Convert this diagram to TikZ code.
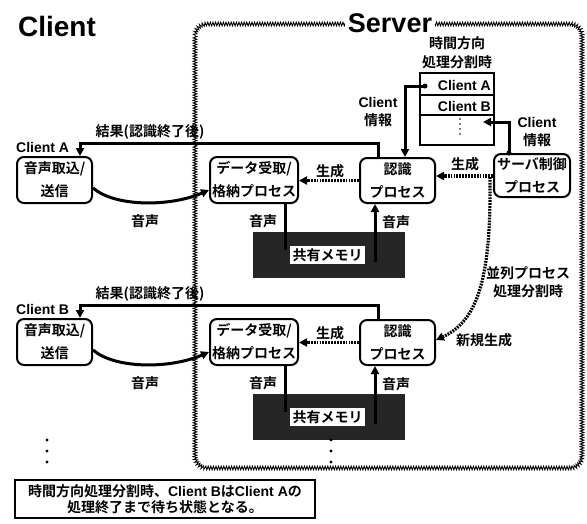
\documentclass[tikz,border=0pt]{standalone}
\usepackage{fontspec}
\setmainfont{Liberation Sans}
\newfontfamily\jp{Noto Sans CJK JP}[BoldFont={Noto Sans CJK JP Bold}]
\usetikzlibrary{arrows.meta,decorations.pathmorphing}
\newcommand\J[1]{{\jp #1}}
\begin{document}
\begin{tikzpicture}[x=1pt,y=-1pt,
  every node/.style={font=\fontsize{14}{18}\selectfont\bfseries, inner sep=0pt},
  pbox/.style={draw, line width=2pt, rounded corners=7pt, align=center, font=\fontsize{14}{23}\selectfont\bfseries},
  tcell/.style={draw, line width=1.5pt, minimum width=74},
  conn/.style={line width=3pt},
  tip/.style={-{Triangle[length=8pt,width=8pt]}},
  dots/.style={line width=3.2pt, dash pattern=on 1.8pt off 1.1pt},
  lbl/.style={align=center},
]
\useasboundingbox (0,0) rectangle (587,523);

% server border
\path[rounded corners=12pt, postaction={sharp corners, draw, line width=0.85pt, decorate, decoration={zigzag, segment length=2.6pt, amplitude=1.9pt}}] (195,24) rectangle (582,468);

% titles
\node (tclient) at (57,26) {\fontsize{28}{30}\selectfont Client};
\node[fill=white, inner xsep=3pt, inner ysep=2pt] (tserver) at (390,23) {\fontsize{27}{30}\selectfont Server};

% table
\node[lbl, font=\fontsize{14}{19}\selectfont\bfseries] (tlabel) at (457,53) {\J{時間方向}\\\J{処理分割時}};
\node[tcell, minimum height=22] (rowA) at (457,84) {};
\node[tcell, minimum height=20] (rowB) at (457,105) {};
\node[tcell, minimum height=30] (rowC) at (457,130) {};
\node[anchor=east] (cta) at (491,85) {Client A};
\node[anchor=east] (ctb) at (491,106) {Client B};
\foreach \yy in {119,124,129,134} \fill (460,\yy) circle (0.9);

% server control
\node[pbox, minimum width=76, minimum height=43] (srv) at (532,175.5) {\J{サーバ制御}\\\J{プロセス}};

\foreach \r/\d in {A/0,B/162}{
  \node[anchor=west] (cl\r) at (16,{147+\d}) {Client \r};
  \node[pbox, minimum width=75, minimum height=46] (c\r) at (54.5,{180+\d}) {\J{音声取込/}\\\J{送信}};
  \node[pbox, minimum width=88, minimum height=46] (d\r) at (254,{180+\d}) {\J{データ受取/}\\\J{格納プロセス}};
  \node[pbox, minimum width=75, minimum height=45] (r\r) at (397.5,{180.5+\d}) {\J{認識}\\\J{プロセス}};
  \node[fill=black!85, minimum width=152, minimum height=46] (m\r) at (329,{255+\d}) {};
  \node[fill=white, minimum width=75, minimum height=18] (ml\r) at (327.5,{255+\d}) {\J{共有メモリ}};
  % result
  \coordinate (k\r) at (80,{143+\d});
  \coordinate (x\r) at (378,{143+\d});
  \draw[conn,tip] (r\r.north -| x\r) |- (k\r) -- (c\r.north -| k\r);
  \node (res\r) at (150,{132+\d}) {\J{結果(認識終了後)}};
  % voice curve
  \draw[conn,tip] ([yshift=-8pt]c\r.east) .. controls (115,{207+\d}) and (170,{207+\d}) .. ([yshift=-10pt]d\r.west);
  \node (v1\r) at (145,{221+\d}) {\J{音声}};
  % data -> memory
  \coordinate (pa\r) at (285,{250+\d});
  \draw[conn] (d\r.south -| pa\r) -- (pa\r);
  \node (v2\r) at (263,{221+\d}) {\J{音声}};
  % memory -> recog
  \coordinate (pb\r) at (375,{262+\d});
  \draw[conn,tip] (pb\r) -- (r\r.south -| pb\r);
  \node (v3\r) at (396,{222+\d}) {\J{音声}};
  % generate
  \draw[dots,tip] (r\r.west) -- (d\r.east |- r\r.west);
  \node (g\r) at (330,{171+\d}) {\J{生成}};
}

% client info left
\coordinate (dotA) at (425,86);
\coordinate (cx) at (405,0);
\fill (dotA) circle (2.5);
\draw[conn,tip] (dotA) -| (rA.north -| cx);
\node[lbl] (ciL) at (378,112) {Client\\\J{情報}};

% client info right
\coordinate (sx) at (509,0);
\coordinate (tgt) at (483,122);
\fill (srv.north -| sx) circle (2.5);
\draw[conn,tip] (srv.north -| sx) |- (tgt);
\node[lbl] (ciR) at (537,132) {Client\\\J{情報}};

% generate from server control
\coordinate (g1) at (0,176);
\draw[dots,tip] (srv.west |- g1) -- (rA.east |- g1);
\node (gS) at (465,164) {\J{生成}};

% new generation curve
\coordinate (sp) at (490,177);
\coordinate (g3) at (0,340);
\draw[dots,tip] (sp) -- (490,200) .. controls (489,285) and (475,322) .. (rB.east |- g3);
\node (nn) at (484,340) {\J{新規生成}};
\node[lbl] (par) at (528,282) {\J{並列プロセス}\\\J{処理分割時}};

% continuation dots
\foreach \yy in {440,451,462} {\fill (47,\yy) circle (1.6); \fill (331,\yy) circle (1.6);}

% note
\node[draw, line width=1.5pt, minimum width=300, minimum height=38, align=center, font=\fontsize{14}{16}\selectfont\bfseries] (note) at (165,499) {\J{時間方向処理分割時、}Client B\J{は}Client A\J{の}\\\J{処理終了まで待ち状態となる。}};
\end{tikzpicture}
\end{document}
